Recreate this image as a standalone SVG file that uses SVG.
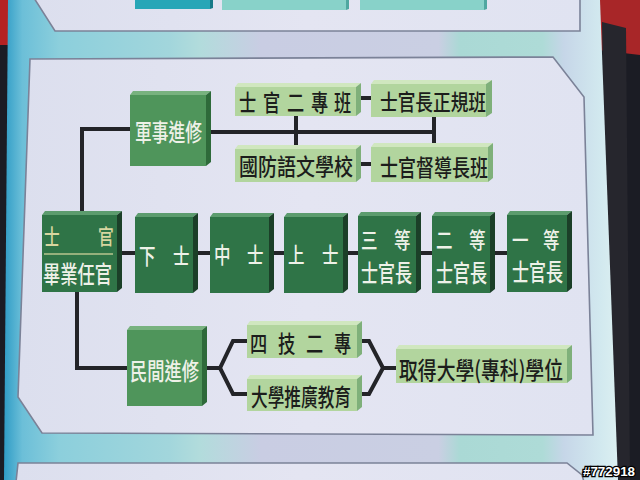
<svg xmlns="http://www.w3.org/2000/svg" width="640" height="480" viewBox="0 0 640 480">
<defs>
<linearGradient id="poster" gradientUnits="userSpaceOnUse" x1="4" y1="0" x2="616" y2="0">
<stop offset="0" stop-color="#2f9cc6"/>
<stop offset="0.03" stop-color="#6cbfd8"/>
<stop offset="0.09" stop-color="#8ccfdc"/>
<stop offset="0.27" stop-color="#a2d6dc"/>
<stop offset="0.32" stop-color="#b2dcdc"/>
<stop offset="0.42" stop-color="#c9cde3"/>
<stop offset="0.71" stop-color="#cacfe3"/>
<stop offset="0.745" stop-color="#aad9d5"/>
<stop offset="0.88" stop-color="#aedbd7"/>
<stop offset="0.915" stop-color="#c6d6e8"/>
<stop offset="0.975" stop-color="#d2e9ef"/>
<stop offset="1" stop-color="#dbeff1"/>
</linearGradient>
<linearGradient id="panelfill" x1="0" y1="0" x2="1" y2="0">
<stop offset="0" stop-color="#dcdfee"/>
<stop offset="0.5" stop-color="#e4e5f2"/>
<stop offset="1" stop-color="#e0e3f1"/>
</linearGradient>
</defs>
<style>
.panel{fill:url(#panelfill);stroke:#7b8298;stroke-width:1.6}
.con{fill:none;stroke:#232428;stroke-width:4;stroke-linejoin:miter}
.dk .f{fill:#2f7447}.dk .t{fill:#5c9c6e}.dk .s{fill:#1b3f28}
.md .f{fill:#4f955b}.md .t{fill:#78b27f}.md .s{fill:#2e6a3a}
.lt .f{fill:#b2d59e}.lt .t{fill:#d0e7bf}.lt .s{fill:#7fb07a}
.wt{fill:#eef1e8;font-family:"Noto Sans CJK TC","Noto Sans CJK SC",sans-serif;font-weight:500;dominant-baseline:central}
.bk{fill:#1c1d1c;font-family:"Noto Sans CJK TC","Noto Sans CJK SC",sans-serif;font-weight:500;dominant-baseline:central}
.kh{fill:#d8d6a0;font-family:"Noto Sans CJK TC","Noto Sans CJK SC",sans-serif;font-weight:500;dominant-baseline:central}
</style>

<!-- surroundings -->
<rect x="0" y="0" width="640" height="480" fill="#1b1c24"/>
<rect x="0" y="0" width="12" height="45" fill="#b42222"/>
<polygon points="598,0 640,0 640,55 598,50" fill="#a82628"/>
<polygon points="602,22 626,28 630,480 608,480" fill="#26262d"/>

<!-- poster -->
<polygon points="8,0 600,0 618,480 4,480" fill="url(#poster)"/>

<!-- panels -->
<polygon class="panel" points="34,-2 580,-2 580,31 55,31"/>
<polygon class="panel" points="30,59 553,57 584,97 593,435 42,433 18,397"/>
<polygon class="panel" points="18,463 567,463 582,475 584,482 16,482"/>

<!-- top panel partial boxes -->
<rect x="135" y="0" width="75" height="9" fill="#27a6b7"/>
<polygon points="210,0 213,0 213,8 210,9" fill="#177a88"/>
<rect x="222" y="0" width="124" height="10" fill="#88d2c9"/>
<polygon points="346,0 349,0 349,9 346,10" fill="#4fa7a0"/>
<rect x="360" y="0" width="124" height="10" fill="#88d2c9"/>
<polygon points="484,0 487,0 487,9 484,10" fill="#4fa7a0"/>

<!-- connectors -->
<g id="connectors">
<path class="con" d="M130,129 H82 V215"/>
<path class="con" d="M210,132 H434"/>
<path class="con" d="M296,116 V149"/>
<path class="con" d="M434,117 V149"/>
<path class="con" d="M358,98 H372"/>
<path class="con" d="M358,164 H372"/>
<path class="con" d="M77,292 V368 H127"/>
<path class="con" d="M120,253 H135"/>
<path class="con" d="M195,253 H210"/>
<path class="con" d="M271,253 H284"/>
<path class="con" d="M345,253 H358"/>
<path class="con" d="M418,253 H432"/>
<path class="con" d="M492,253 H507"/>
<path class="con" d="M204,368 H220 L233,341 H247"/>
<path class="con" d="M220,368 L233,394 H247"/>
<path class="con" d="M359,341 H369 L383,368 H396"/>
<path class="con" d="M359,394 H369 L383,368"/>
</g>

<!-- nodes -->
<g id="n-military" class="md">
<polygon class="t" points="130,95 133,91 211,91 206,95"/>
<polygon class="s" points="206,95 211,91 211,162 206,166"/>
<rect class="f" x="130" y="95" width="76" height="71"/>
<text class="wt" x="135" y="130.5" font-size="24" textLength="67" lengthAdjust="spacingAndGlyphs">軍事進修</text>
</g>
<g id="n-nco2" class="lt">
<polygon class="t" points="235,87 238,83 361,83 356,87"/>
<polygon class="s" points="356,87 361,83 361,112 356,116"/>
<rect class="f" x="235" y="87" width="121" height="29"/>
<text class="bk" transform="scale(0.75,1)" x="318.7 350.7 382.7 414.7 445.3" y="101" font-size="23">士官二專班</text>
</g>
<g id="n-regular" class="lt">
<polygon class="t" points="371,84 374,80 492,80 486,84"/>
<polygon class="s" points="486,84 492,80 492,113 486,117"/>
<rect class="f" x="371" y="84" width="115" height="33"/>
<text class="bk" x="380" y="100" font-size="22" textLength="106" lengthAdjust="spacingAndGlyphs">士官長正規班</text>
</g>
<g id="n-language" class="lt">
<polygon class="t" points="235,149 238,145 361,145 356,149"/>
<polygon class="s" points="356,149 361,145 361,178 356,182"/>
<rect class="f" x="235" y="149" width="121" height="33"/>
<text class="bk" x="239" y="165" font-size="23" textLength="114" lengthAdjust="spacingAndGlyphs">國防語文學校</text>
</g>
<g id="n-supervisor" class="lt">
<polygon class="t" points="371,147 374,143 493,143 488,147"/>
<polygon class="s" points="488,147 493,143 493,178 488,182"/>
<rect class="f" x="371" y="147" width="117" height="35"/>
<text class="bk" x="380" y="166" font-size="23" textLength="108" lengthAdjust="spacingAndGlyphs">士官督導長班</text>
</g>

<g id="n-graduate" class="dk">
<polygon class="t" points="42,215 45,211 122,211 117,215"/>
<polygon class="s" points="117,215 122,211 122,288 117,292"/>
<rect class="f" x="42" y="215" width="75" height="77"/>
<text class="kh" transform="scale(0.75,1)" x="58.7 130.7" y="234" font-size="21">士官</text>
<line x1="44" y1="254" x2="113" y2="254" stroke="#b9c48e" stroke-width="1.5"/>
<text class="wt" x="43" y="272.5" font-size="24" textLength="69" lengthAdjust="spacingAndGlyphs">畢業任官</text>
</g>
<g id="n-sergeant3" class="dk">
<polygon class="t" points="135,217 138,213 198,213 193,217"/>
<polygon class="s" points="193,217 198,213 198,289 193,293"/>
<rect class="f" x="135" y="217" width="58" height="76"/>
<text class="wt" transform="scale(0.75,1)" x="185.3 230.7" y="254" font-size="22">下士</text>
</g>
<g id="n-sergeant2" class="dk">
<polygon class="t" points="210,217 213,213 274,213 269,217"/>
<polygon class="s" points="269,217 274,213 274,289 269,293"/>
<rect class="f" x="210" y="217" width="59" height="76"/>
<text class="wt" transform="scale(0.75,1)" x="285.3 329.3" y="253.5" font-size="22">中士</text>
</g>
<g id="n-sergeant1" class="dk">
<polygon class="t" points="284,217 287,213 348,213 343,217"/>
<polygon class="s" points="343,217 348,213 348,289 343,293"/>
<rect class="f" x="284" y="217" width="59" height="76"/>
<text class="wt" transform="scale(0.75,1)" x="384 429.3" y="253.5" font-size="22">上士</text>
</g>
<g id="n-msg3" class="dk">
<polygon class="t" points="358,216 361,212 421,212 416,216"/>
<polygon class="s" points="416,216 421,212 421,289 416,293"/>
<rect class="f" x="358" y="216" width="58" height="77"/>
<text class="wt" transform="scale(0.75,1)" x="481.3 525.3" y="238.5" font-size="22">三等</text>
<text class="wt" x="361" y="271" font-size="24" textLength="51" lengthAdjust="spacingAndGlyphs">士官長</text>
</g>
<g id="n-msg2" class="dk">
<polygon class="t" points="432,216 435,212 495,212 490,216"/>
<polygon class="s" points="490,216 495,212 495,289 490,293"/>
<rect class="f" x="432" y="216" width="58" height="77"/>
<text class="wt" transform="scale(0.75,1)" x="581.3 625.3" y="238.5" font-size="22">二等</text>
<text class="wt" x="436" y="271" font-size="24" textLength="51" lengthAdjust="spacingAndGlyphs">士官長</text>
</g>
<g id="n-msg1" class="dk">
<polygon class="t" points="507,215 510,211 572,211 567,215"/>
<polygon class="s" points="567,215 572,211 572,288 567,292"/>
<rect class="f" x="507" y="215" width="60" height="77"/>
<text class="wt" transform="scale(0.75,1)" x="682.7 724" y="238" font-size="22">一等</text>
<text class="wt" x="512" y="270.5" font-size="24" textLength="51" lengthAdjust="spacingAndGlyphs">士官長</text>
</g>

<g id="n-civil" class="md">
<polygon class="t" points="127,330 130,326 207,326 202,330"/>
<polygon class="s" points="202,330 207,326 207,402 202,406"/>
<rect class="f" x="127" y="330" width="75" height="76"/>
<text class="wt" x="130" y="369.5" font-size="24" textLength="69" lengthAdjust="spacingAndGlyphs">民間進修</text>
</g>
<g id="n-tech" class="lt">
<polygon class="t" points="247,325 250,321 362,321 357,325"/>
<polygon class="s" points="357,325 362,321 362,354 357,358"/>
<rect class="f" x="247" y="325" width="110" height="33"/>
<text class="bk" transform="scale(0.75,1)" x="333.3 370.7 408 445.3" y="341.5" font-size="23">四技二專</text>
</g>
<g id="n-extension" class="lt">
<polygon class="t" points="247,379 250,375 362,375 357,379"/>
<polygon class="s" points="357,379 362,375 362,407 357,411"/>
<rect class="f" x="247" y="379" width="110" height="32"/>
<text class="bk" x="251" y="395" font-size="24" textLength="100" lengthAdjust="spacingAndGlyphs">大學推廣教育</text>
</g>
<g id="n-degree" class="lt">
<polygon class="t" points="396,349 399,345 572,345 567,349"/>
<polygon class="s" points="567,349 572,345 572,379 567,383"/>
<rect class="f" x="396" y="349" width="171" height="34"/>
<text class="bk" x="399" y="368.5" font-size="24" textLength="164" lengthAdjust="spacingAndGlyphs">取得大學(專科)學位</text>
</g>

<text x="583" y="476" font-family="Liberation Sans, sans-serif" font-size="13" font-weight="bold" fill="#ffffff" stroke="#000000" stroke-width="2.5" paint-order="stroke" textLength="52" lengthAdjust="spacingAndGlyphs">#772918</text>
</svg>
